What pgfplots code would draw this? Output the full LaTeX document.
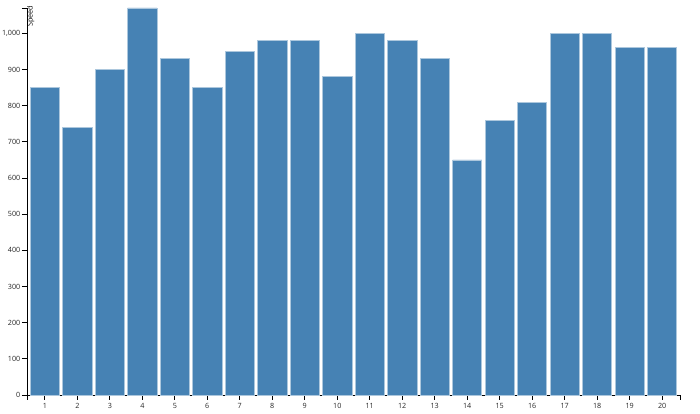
\documentclass[border=0pt]{standalone}
\usepackage{fontspec}
\setmainfont{Open Sans}
\usepackage{pgfplots}
\pgfplotsset{compat=1.18}
\definecolor{steel}{HTML}{4682B4}
\begin{document}
\begin{tikzpicture}
\path[use as bounding box] (0,0) rectangle (700bp,414bp);
\begin{axis}[
 at={(27bp,19bp)}, anchor=south west, scale only axis, width=653bp, height=387bp,
 xmin=0.45, xmax=20.55, ymin=0, ymax=1070,
 axis x line*=bottom, axis y line*=left, axis line style={black, line width=0.8bp},
 xtick={1,...,20}, ytick={0,100,...,1000},
 extra x ticks={0.45,20.55}, extra x tick labels={},
 extra y ticks={1070}, extra y tick labels={},
 tick align=outside, major tick length=5bp, tick style={black, line width=0.8bp},
 ticklabel style={font=\fontsize{7.2bp}{9bp}\selectfont, text=black!85},
 yticklabel style={inner sep=1.5bp},
 /pgf/number format/assume math mode=true,
 /pgf/number format/1000 sep={,},
 clip=false,
 ybar, bar width=0.9, bar shift=0pt,
]
\addplot[fill=steel, draw=steel!45!white, line width=0.7bp] coordinates {
(1,850) (2,740) (3,900) (4,1070) (5,930) (6,850) (7,950) (8,980) (9,980) (10,880)
(11,1000) (12,980) (13,930) (14,650) (15,760) (16,810) (17,1000) (18,1000) (19,960) (20,960)};
\node[rotate=90, anchor=north east, inner sep=0, font=\fontsize{7.2bp}{9bp}\selectfont] at (rel axis cs:0,1) [xshift=2.5bp] {Speed};
\end{axis}
\end{tikzpicture}
\end{document}
